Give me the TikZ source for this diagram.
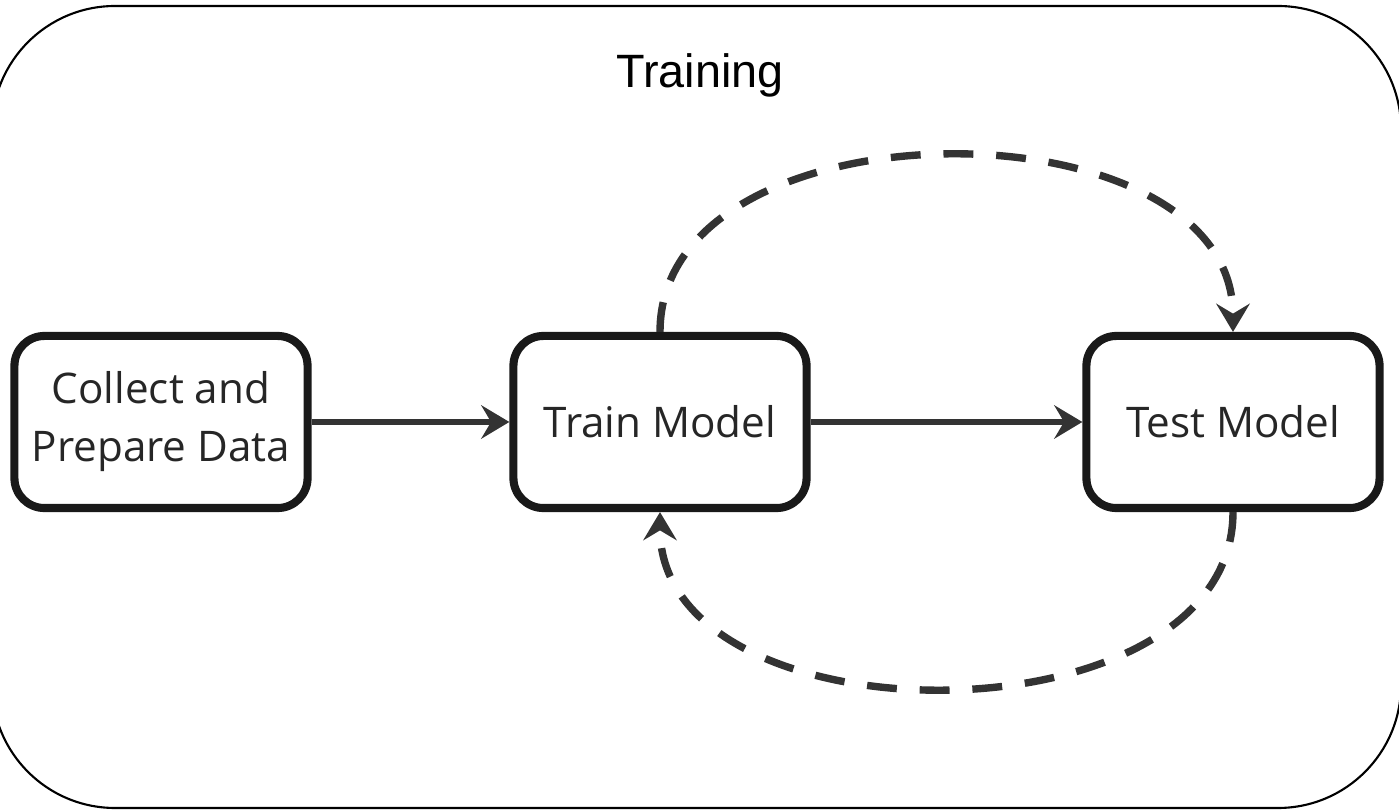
\documentclass[tikz,border=0pt]{standalone}
\usepackage{fontspec}
\setmainfont{Open Sans}
\newfontfamily\titlefont{Liberation Sans}
\usetikzlibrary{arrows.meta}

\begin{document}
\begin{tikzpicture}[x=0.01cm, y=-0.01cm,
    >={Stealth[length=8pt, width=9.5pt, inset=2.8pt]},
    box/.style={draw=black!90, line width=2.3pt, rounded corners=0.3cm,
        minimum width=2.93cm, minimum height=1.72cm, align=center,
        font=\fontsize{12}{16.5}\selectfont, text=black!85},
    flow/.style={->, line width=1.8pt, draw=black!80},
    dashflow/.style={->, line width=2.1pt, draw=black!80, dash pattern=on 8.5pt off 6.5pt}]
    \useasboundingbox (0,0) rectangle (1399,810);

    % 1. Khung ngoài bo góc và tiêu đề
    \draw[black, line width=0.6pt, rounded corners=1.23cm] (-8,6) rectangle (1401,808);
    \node[font=\titlefont\fontsize{13.3}{15}\selectfont] (title) at (700,75) {Training};

    % 2. Các bước của quá trình
    \node[box] (collect) at (161,422) {Collect and\\Prepare Data};
    \node[box] (train) at (660,422) {Train Model};
    \node[box] (test) at (1233,422) {Test Model};

    % 3. Mũi tên nối các bước
    \draw[flow] (collect) -- (train);
    \draw[flow] (train) -- (test);

    % 4. Vòng lặp nét đứt giữa huấn luyện và kiểm tra
    \draw[dashflow] (train.north) to[out=90, in=90, looseness=1.05] (test.north);
    \draw[dashflow] (test.south) to[out=-90, in=-90, looseness=1.05] (train.south);

\end{tikzpicture}
\end{document}
